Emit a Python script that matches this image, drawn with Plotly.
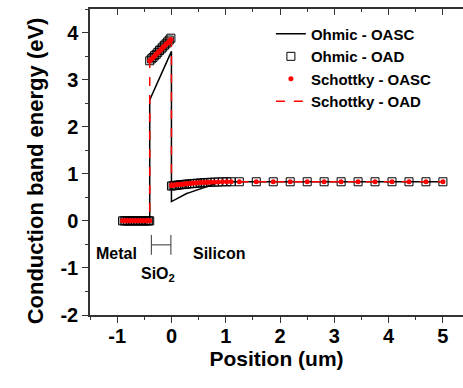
import plotly.graph_objects as go

# ---------------- data ----------------
# positions (um)
metal_x = [-0.90, -0.87, -0.84, -0.81, -0.78, -0.75, -0.72, -0.69, -0.66, -0.63,
           -0.60, -0.57, -0.54, -0.51, -0.48, -0.45, -0.42, -0.40]
metal_y = [0.0] * len(metal_x)

oxide_x = [-0.40, -0.37, -0.34, -0.31, -0.28, -0.25, -0.22, -0.19, -0.16, -0.13,
           -0.10, -0.07, -0.04, -0.01]
oxide_ohmic_oad = [3.40, 3.44, 3.47, 3.51, 3.54, 3.58, 3.62, 3.65, 3.69, 3.73,
                   3.76, 3.80, 3.84, 3.88]
oxide_schottky = [3.40, 3.43, 3.47, 3.50, 3.54, 3.57, 3.61, 3.64, 3.68, 3.71,
                  3.75, 3.78, 3.82, 3.85]

si_x = [0.00, 0.03, 0.06, 0.09, 0.12, 0.16, 0.20, 0.24, 0.28, 0.33, 0.38, 0.43,
        0.48, 0.54, 0.60, 0.66, 0.72, 0.79, 0.86, 0.94, 1.02, 1.10,
        1.25, 1.5625, 1.875, 2.1875, 2.5, 2.8125, 3.125, 3.4375, 3.75, 4.0625,
        4.375, 4.6875, 5.0]
si_ohmic_oad = [0.74, 0.745, 0.75, 0.755, 0.76, 0.765, 0.77, 0.775, 0.78, 0.785,
                0.79, 0.795, 0.80, 0.805, 0.81, 0.815, 0.82, 0.822, 0.825, 0.828,
                0.83, 0.83,
                0.83, 0.83, 0.83, 0.83, 0.83, 0.83, 0.83, 0.83, 0.83, 0.83,
                0.83, 0.83, 0.83]
si_schottky = [0.75, 0.755, 0.76, 0.765, 0.77, 0.775, 0.78, 0.785, 0.79, 0.795,
               0.80, 0.805, 0.81, 0.812, 0.815, 0.818, 0.82, 0.823, 0.826, 0.828,
               0.83, 0.83,
               0.83, 0.83, 0.83, 0.83, 0.83, 0.83, 0.83, 0.83, 0.83, 0.83,
               0.83, 0.83, 0.83]
si_ohmic_oasc = [0.41, 0.43, 0.45, 0.47, 0.49, 0.51, 0.53, 0.56, 0.58, 0.60,
                 0.62, 0.64, 0.66, 0.69, 0.72, 0.74, 0.77, 0.79, 0.81, 0.825,
                 0.83, 0.83,
                 0.83, 0.83, 0.83, 0.83, 0.83, 0.83, 0.83, 0.83, 0.83, 0.83,
                 0.83, 0.83, 0.83]
# Ohmic OASC oxide barrier (linear between interfaces)
oxide_ohmic_oasc_x = [-0.40, -0.40, 0.00, 0.00]
oxide_ohmic_oasc_y = [0.0, 2.57, 3.60, 0.41]

x_ticks = [-1, 0, 1, 2, 3, 4, 5]
y_ticks = [-2, -1, 0, 1, 2, 3, 4]

# ---------------- assemble series ----------------
ohmic_oasc_x = metal_x + oxide_ohmic_oasc_x + si_x
ohmic_oasc_y = metal_y + oxide_ohmic_oasc_y + si_ohmic_oasc

ohmic_oad_x = metal_x + oxide_x + si_x
ohmic_oad_y = metal_y + oxide_ohmic_oad + si_ohmic_oad

schottky_oasc_x = metal_x + oxide_x + si_x
schottky_oasc_y = metal_y + oxide_schottky + si_schottky

schottky_oad_x = metal_x + oxide_x + [0.0] + si_x
schottky_oad_y = metal_y + oxide_schottky + [3.85] + si_schottky

FONT = "Liberation Sans, Arial, sans-serif"

fig = go.Figure()
fig.add_trace(go.Scatter(x=ohmic_oasc_x, y=ohmic_oasc_y, mode="lines",
                         name="<b>Ohmic - OASC</b>",
                         line=dict(color="black", width=1.5)))
fig.add_trace(go.Scatter(x=ohmic_oad_x, y=ohmic_oad_y, mode="markers",
                         name="<b>Ohmic - OAD</b>",
                         marker=dict(symbol="square-open", size=8,
                                     color="black", line=dict(width=1))))
fig.add_trace(go.Scatter(x=schottky_oasc_x, y=schottky_oasc_y, mode="markers",
                         name="<b>Schottky - OASC</b>",
                         marker=dict(symbol="circle", size=5, color="#ff0000")))
fig.add_trace(go.Scatter(x=schottky_oad_x, y=schottky_oad_y, mode="lines",
                         name="<b>Schottky - OAD</b>",
                         line=dict(color="#ff0000", width=1.5, dash="dash")))

# SiO2 bracket
br_l, br_r, br_top, br_bot = -0.37, -0.01, -0.30, -0.72
br_mid = (br_top + br_bot) / 2
for x0, y0, x1, y1 in [(br_l, br_top, br_l, br_bot), (br_r, br_top, br_r, br_bot),
                       (br_l, br_mid, br_r, br_mid)]:
    fig.add_shape(type="line", x0=x0, y0=y0, x1=x1, y1=y1, xref="x", yref="y",
                  line=dict(color="#333333", width=1))

lab_font = dict(family=FONT, size=16, color="black")
fig.add_annotation(x=-1.01, y=-0.70, text="<b>Metal</b>", showarrow=False, font=lab_font)
fig.add_annotation(x=0.88, y=-0.70, text="<b>Silicon</b>", showarrow=False, font=lab_font)
fig.add_annotation(x=-0.24, y=-1.13, text="<b>SiO<sub>2</sub></b>", showarrow=False,
                   font=lab_font)
# y-axis title
fig.add_annotation(xref="paper", yref="paper", x=-0.147, y=0.47,
                   xanchor="center", yanchor="middle",
                   text="<b>Conduction band energy (eV)</b>", textangle=-90,
                   showarrow=False, font=dict(family=FONT, size=22, color="black"))

axis_common = dict(showline=True, linecolor="#333333", linewidth=1.5,
                   ticks="outside", ticklen=6, tickwidth=1.2, tickcolor="#333333",
                   showgrid=False, zeroline=False, automargin=False)

fig.update_layout(
    width=463, height=388,
    margin=dict(l=90, r=0, t=9, b=73),
    plot_bgcolor="white", paper_bgcolor="white",
    font=dict(family=FONT, color="black"),
    xaxis=dict(range=[-1.5, 5.37], tickvals=x_ticks,
               ticktext=["<b>%d</b>" % v for v in x_ticks],
               tickfont=dict(family=FONT, size=20),
               ticklabelstandoff=-4,
               title=dict(text="<b>Position (um)</b>",
                          font=dict(family=FONT, size=21),
                          standoff=6),
               minor=dict(ticks="outside", ticklen=3, dtick=0.5, tick0=0,
                          tickcolor="#333333"),
               **axis_common),
    xaxis2=dict(range=[-1.5, 5.37], overlaying="x", side="top",
                showline=True, linecolor="#333333", linewidth=1.5,
                ticks="inside", ticklen=6, tickwidth=1.2, tickcolor="#333333",
                tickvals=x_ticks, showticklabels=False, showgrid=False,
                zeroline=False, automargin=False,
                minor=dict(ticks="inside", ticklen=3, dtick=0.5, tick0=0,
                           tickcolor="#333333")),
    yaxis=dict(range=[-2, 4.5], tickvals=y_ticks,
               ticktext=["<b>%d</b>" % v for v in y_ticks],
               tickfont=dict(family=FONT, size=20),
               minor=dict(ticks="outside", ticklen=3, dtick=0.5, tick0=0,
                          tickcolor="#333333"),
               **axis_common),
    legend=dict(x=0.485, y=0.972, xanchor="left", yanchor="top",
                bgcolor="rgba(0,0,0,0)",
                font=dict(family=FONT, size=15, color="black"),
                tracegroupgap=0, itemwidth=30),
    showlegend=True,
)

# invisible trace to anchor top axis
fig.add_trace(go.Scatter(x=[None], y=[None], xaxis="x2", showlegend=False,
                         hoverinfo="skip"))

fig.write_html("out.html", config={"displayModeBar": False},
               post_script="document.body.style.margin='0';")
